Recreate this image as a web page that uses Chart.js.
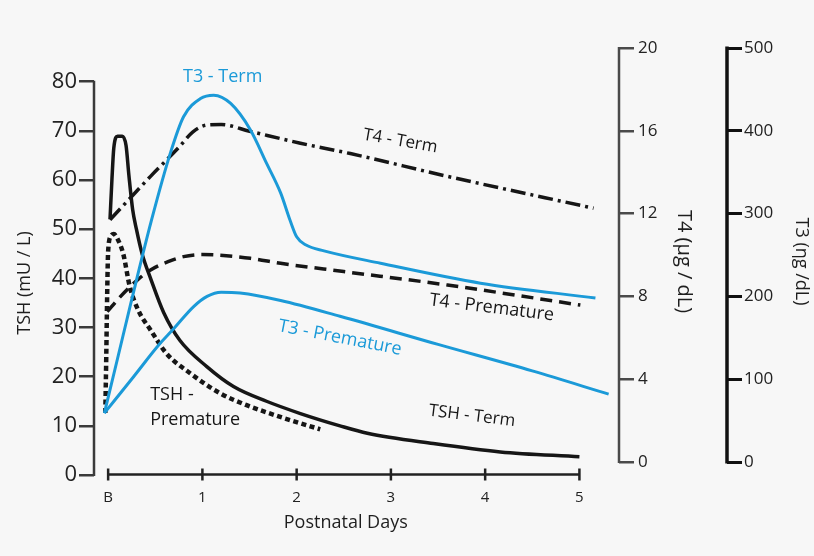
<!DOCTYPE html>
<html><head><meta charset="utf-8">
<script src="https://cdn.jsdelivr.net/npm/chart.js@4.4.1/dist/chart.umd.min.js"></script>
<style>html,body{margin:0;padding:0;background:#f7f7f7;}canvas{display:block;}</style>
</head><body>
<canvas id="c" width="814" height="556"></canvas>
<script>
// ---- axis ticks ----
const dayTicks = [0, 1, 2, 3, 4, 5];
const dayLabels = ['B', '1', '2', '3', '4', '5'];
const tshTicks = [0, 10, 20, 30, 40, 50, 60, 70, 80];
const t4Ticks = [0, 4, 8, 12, 16, 20];
const t3Ticks = [0, 100, 200, 300, 400, 500];

// ---- series (x = postnatal days, B = 0) ----
const tshTermX = [0.02, 0.04, 0.06, 0.10, 0.15, 0.19, 0.22, 0.26, 0.30, 0.36, 0.45, 0.59, 0.76, 1.05, 1.33, 1.68, 2.04, 2.46, 2.75, 3.45, 4.16, 5.00];
const tshTermY = [52, 60, 66.5, 68.9, 68.9, 67, 61, 54, 50, 45, 40, 33, 27.4, 22, 18, 15, 12.5, 10, 8.5, 6.4, 4.7, 3.7];

const tshPremX = [-0.03, -0.02, -0.01, 0.00, 0.03, 0.06, 0.10, 0.16, 0.23, 0.32, 0.45, 0.62, 0.87, 1.19, 1.47, 1.86, 2.25];
const tshPremY = [12.6, 24, 37, 45.5, 48.6, 49, 48, 45, 38.3, 33.5, 29.5, 24.7, 20.7, 16.6, 14.2, 11.6, 9.3];

const t4TermX = [0.02, 0.45, 0.75, 0.90, 1.05, 1.20, 1.50, 2.04, 2.57, 3.60, 5.15];
const t4TermY = [11.7, 13.8, 15.2, 15.95, 16.28, 16.3, 15.98, 15.4, 14.9, 13.8, 12.26];

const t4PremX = [-0.01, 0.13, 0.30, 0.45, 0.65, 0.80, 1.00, 1.15, 1.51, 1.83, 2.50, 3.60, 5.01];
const t4PremY = [7.26, 7.99, 8.75, 9.28, 9.7, 9.92, 10.02, 10.0, 9.84, 9.6, 9.2, 8.55, 7.58];

const t3TermX = [-0.04, 0.10, 0.25, 0.46, 0.66, 0.80, 0.98, 1.12, 1.30, 1.51, 1.68, 1.83, 1.93, 2.00, 2.10, 2.29, 2.89, 3.95, 5.17];
const t3TermY = [59, 125, 196, 292, 373, 417, 439, 443, 433, 401, 361, 325, 292, 272, 262, 255, 240, 216, 198];

const t3PremX = [-0.04, 0.27, 0.55, 0.68, 0.91, 1.05, 1.20, 1.40, 1.83, 2.46, 3.50, 4.50, 5.31];
const t3PremY = [59, 103, 143, 159, 188, 200, 205, 204, 195, 176, 142, 110, 82];

// ---- in-chart labels (positioned in x days / TSH units) ----
const noteText = ['T3 - Term', 'T4 - Term', 'T4 - Premature', 'T3 - Premature', 'TSH - Term', 'TSH -', 'Premature'];
const noteX    = [1.215, 3.10, 4.07, 2.46, 3.86, 0.446, 0.446];
const noteY    = [81.0, 67.9, 34.0, 27.9, 12.0, 16.3, 11.2];

const BLUE = '#1b9ad8';
const INK = '#161616';
const noteStyle = [
  {c: BLUE, r: 0, a: 'center', s: 18},
  {c: INK, r: 10, a: 'center', s: 17},
  {c: INK, r: 7, a: 'center', s: 18},
  {c: BLUE, r: 11, a: 'center', s: 18},
  {c: INK, r: 7, a: 'center', s: 17},
  {c: INK, r: 0, a: 'left', s: 18},
  {c: INK, r: 0, a: 'left', s: 18}
];

const pts = (xs, ys) => xs.map((x, i) => ({x, y: ys[i]}));
const FONT = '"Open Sans", "DejaVu Sans", sans-serif';

const decor = {
  id: 'decor',
  beforeDraw(chart) {
    const ctx = chart.ctx;
    ctx.save();
    ctx.fillStyle = '#f7f7f7';
    ctx.fillRect(0, 0, chart.width, chart.height);
    ctx.restore();
  },
  afterDraw(chart) {
    const ctx = chart.ctx;
    const {x, yTSH, yT4, yT3} = chart.scales;
    ctx.save();
    ctx.lineCap = 'butt';
    // left axis line
    ctx.strokeStyle = '#3a3a3a'; ctx.lineWidth = 2.5;
    ctx.beginPath();
    ctx.moveTo(yTSH.right, yTSH.getPixelForValue(0) + 1);
    ctx.lineTo(yTSH.right, yTSH.getPixelForValue(80) - 1);
    ctx.stroke();
    // T4 axis line
    ctx.strokeStyle = '#4a4a4a'; ctx.lineWidth = 2.5;
    ctx.beginPath();
    ctx.moveTo(yT4.left, yT4.getPixelForValue(0) + 1);
    ctx.lineTo(yT4.left, yT4.getPixelForValue(20) - 1);
    ctx.stroke();
    // T3 axis line
    ctx.strokeStyle = '#111'; ctx.lineWidth = 3.5;
    ctx.beginPath();
    ctx.moveTo(yT3.left, yT3.getPixelForValue(0) + 1.5);
    ctx.lineTo(yT3.left, yT3.getPixelForValue(500) - 1.5);
    ctx.stroke();
    // x axis line with crossing ticks
    const y0 = yTSH.getPixelForValue(0) - 0.5;
    ctx.strokeStyle = '#222'; ctx.lineWidth = 2.5;
    ctx.beginPath();
    ctx.moveTo(x.getPixelForValue(0), y0);
    ctx.lineTo(x.getPixelForValue(5), y0);
    ctx.stroke();
    dayTicks.forEach(d => {
      const px = x.getPixelForValue(d);
      ctx.beginPath();
      ctx.moveTo(px, y0 - 6);
      ctx.lineTo(px, y0 + 6);
      ctx.stroke();
    });
    // axis titles
    ctx.fillStyle = '#1e1e1e';
    ctx.font = '18px ' + FONT;
    ctx.textAlign = 'center'; ctx.textBaseline = 'middle';
    ctx.fillText('Postnatal Days', (x.getPixelForValue(0) + x.getPixelForValue(5)) / 2 + 2, 523);
    ctx.save();
    ctx.translate(25, 283);
    ctx.rotate(-Math.PI / 2);
    ctx.fillText('TSH (mU / L)', 0, 0);
    ctx.restore();
    // notes
    noteText.forEach((t, i) => {
      const st = noteStyle[i];
      ctx.save();
      ctx.translate(x.getPixelForValue(noteX[i]), yTSH.getPixelForValue(noteY[i]));
      ctx.rotate(st.r * Math.PI / 180);
      ctx.fillStyle = st.c;
      ctx.font = st.s + 'px ' + FONT;
      ctx.textAlign = st.a; ctx.textBaseline = 'middle';
      ctx.fillText(t, 0, 0);
      ctx.restore();
    });
    ctx.restore();
  }
};

const setTicks = arr => scale => { scale.ticks = arr.map(v => ({value: v})); };

new Chart(document.getElementById('c'), {
  type: 'line',
  data: {
    datasets: [
      {label: 'T3 - Term', data: pts(t3TermX, t3TermY), yAxisID: 'yT3', borderColor: BLUE, borderWidth: 3},
      {label: 'T3 - Premature', data: pts(t3PremX, t3PremY), yAxisID: 'yT3', borderColor: BLUE, borderWidth: 3},
      {label: 'TSH - Term', data: pts(tshTermX, tshTermY), yAxisID: 'yTSH', borderColor: INK, borderWidth: 3.5},
      {label: 'TSH - Premature', data: pts(tshPremX, tshPremY), yAxisID: 'yTSH', borderColor: INK, borderWidth: 4.5, borderDash: [5, 3.5]},
      {label: 'T4 - Term', data: pts(t4TermX, t4TermY), yAxisID: 'yT4', borderColor: INK, borderWidth: 3.5, borderDash: [15, 5, 3, 5]},
      {label: 'T4 - Premature', data: pts(t4PremX, t4PremY), yAxisID: 'yT4', borderColor: INK, borderWidth: 3.5, borderDash: [12, 7]}
    ]
  },
  options: {
    responsive: false,
    animation: false,
    devicePixelRatio: 1,
    layout: {padding: {top: 48, left: 0, right: 0, bottom: 0}},
    plugins: {legend: {display: false}, tooltip: {enabled: false}},
    elements: {
      point: {radius: 0, hoverRadius: 0},
      line: {cubicInterpolationMode: 'monotone', fill: false, borderCapStyle: 'butt', borderJoinStyle: 'round'}
    },
    scales: {
      x: {
        type: 'linear', position: 'bottom', min: -0.15, max: 5.42,
        afterBuildTicks: setTicks(dayTicks),
        afterFit: s => { s.height = 81; },
        grid: {display: false, drawTicks: false},
        border: {display: false},
        ticks: {autoSkip: false, maxRotation: 0, padding: 14, color: '#222', font: {family: FONT, size: 15},
          callback: v => dayLabels[dayTicks.indexOf(v)]}
      },
      yTSH: {
        type: 'linear', position: 'left', min: 0, max: 86.85,
        afterBuildTicks: setTicks(tshTicks),
        afterFit: s => { s.width = 94; },
        grid: {display: true, drawOnChartArea: false, drawTicks: true, tickLength: 15, color: '#3a3a3a', lineWidth: 2.5},
        border: {display: false},
        ticks: {autoSkip: false, padding: 2, color: '#222', font: {family: FONT, size: 22}}
      },
      yT4: {
        type: 'linear', position: 'right', min: -0.628, max: 20,
        afterBuildTicks: setTicks(t4Ticks),
        afterFit: s => { s.width = 108; },
        grid: {display: true, drawOnChartArea: false, drawTicks: true, tickLength: 15, color: '#4a4a4a', lineWidth: 2.5},
        border: {display: false},
        ticks: {autoSkip: false, padding: 4, color: '#222', font: {family: FONT, size: 17}},
        title: {display: true, text: 'T4 (µg / dL)', color: '#1e1e1e', font: {family: FONT, size: 20}, padding: {top: 31, bottom: 0}}
      },
      yT3: {
        type: 'linear', position: 'right', min: -15.7, max: 500,
        afterBuildTicks: setTicks(t3Ticks),
        afterFit: s => { s.width = 87; },
        grid: {display: true, drawOnChartArea: false, drawTicks: true, tickLength: 15, color: '#111', lineWidth: 3},
        border: {display: false},
        ticks: {autoSkip: false, padding: 2, color: '#222', font: {family: FONT, size: 17}},
        title: {display: true, text: 'T3 (ηg /dL)', color: '#1e1e1e', font: {family: FONT, size: 18}, padding: {top: 2, bottom: 0}}
      }
    }
  },
  plugins: [decor]
});
</script>
</body></html>
